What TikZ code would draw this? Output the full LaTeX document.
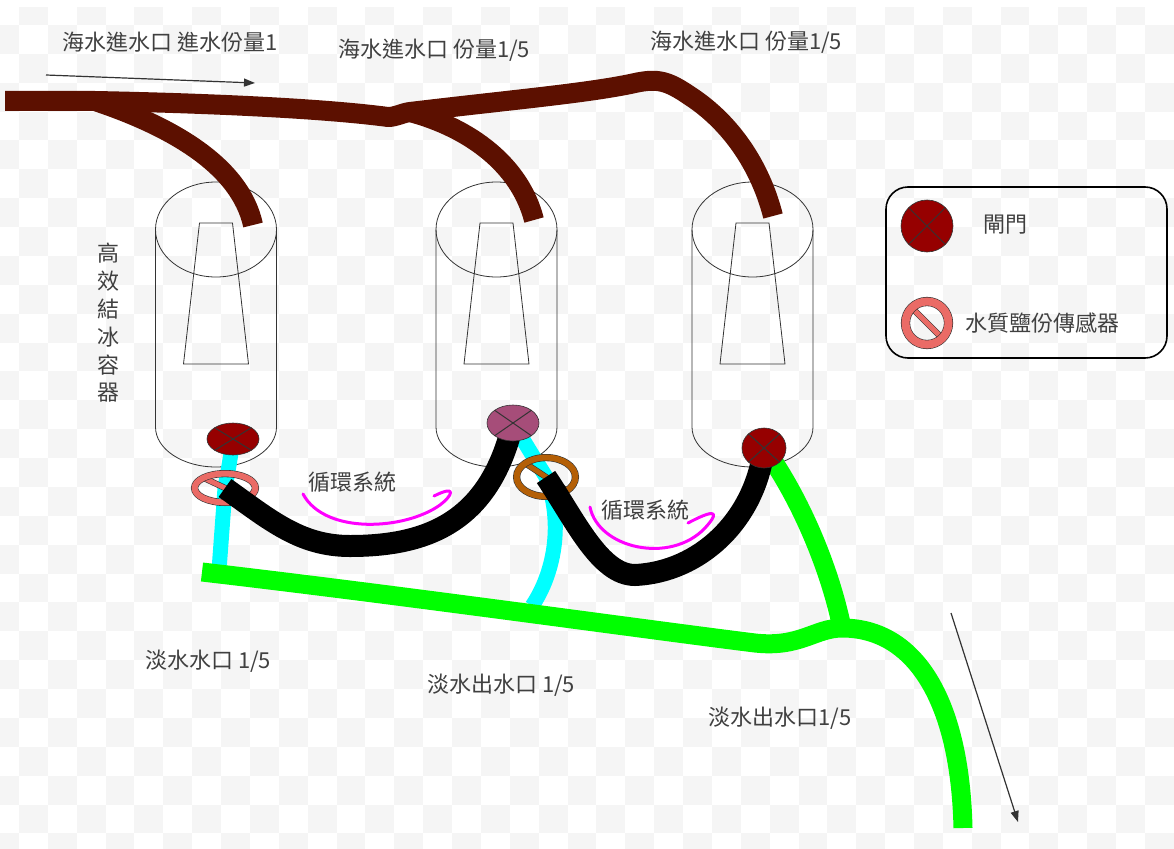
\documentclass[tikz,border=0pt]{standalone}
\usepackage{fontspec}
\setmainfont{Noto Sans CJK TC}
\usetikzlibrary{shapes.geometric,arrows.meta}

\definecolor{boardgray}{RGB}{245,245,245}
\definecolor{inktext}{RGB}{64,64,64}
\definecolor{outline}{RGB}{51,51,51}
\definecolor{seabrown}{RGB}{92,16,0}
\definecolor{freshgreen}{RGB}{0,255,0}
\definecolor{brinecyan}{RGB}{0,255,255}
\definecolor{hintpink}{RGB}{255,0,255}
\definecolor{gatered}{RGB}{150,0,0}
\definecolor{gatemauve}{RGB}{166,77,121}
\definecolor{probepink}{RGB}{234,107,102}
\definecolor{probeorange}{RGB}{180,95,6}

\pgfdeclarelayer{board}
\pgfdeclarelayer{pipes}
\pgfdeclarelayer{top}
\pgfsetlayers{board,pipes,main,top}

\tikzset{
  tank/.style={draw=outline, line width=.8pt},
  gate/.style={ellipse, draw=outline, line width=.6pt, fill=#1, inner sep=0pt,
    path picture={\draw[black!80, line width=1pt]
      (path picture bounding box.north west) -- (path picture bounding box.south east)
      (path picture bounding box.north east) -- (path picture bounding box.south west);}},
  gate/.default=gatered,
  probe/.style={ellipse, draw=outline, line width=.6pt, double=#1, double distance=6pt, inner sep=0pt,
    path picture={\draw[outline, line width=.6pt, double=#1, double distance=5pt]
      (path picture bounding box.north west) -- (path picture bounding box.south east);}},
  seapipe/.style={draw=seabrown, line width=20pt, line join=round},
  freshpipe/.style={draw=freshgreen, line width=19pt, line join=round},
  brinepipe/.style={draw=brinecyan, line width=15pt},
  looppipe/.style={draw=black, line width=22pt},
  hint/.style={draw=hintpink, line width=3pt, line cap=round, line join=round},
  flowarrow/.style={draw=outline, line width=1.2pt, -{Triangle[length=11pt,width=8pt]}},
  note/.style={text=inktext, font=\fontsize{22}{26}\selectfont, inner sep=0pt},
}

\begin{document}
\begin{tikzpicture}[x=1pt,y=-1pt]
  \useasboundingbox (0,0) rectangle (1174,848);

  % checkerboard and the three tanks
  \begin{pgfonlayer}{board}
    \begin{scope}
      \clip (0,8) rectangle (1174,848);
      \foreach \i in {-1,...,40}
        \foreach \j in {-1,...,28}
          {\ifodd\numexpr\i+\j+2\relax
             \fill[boardgray] ({19+28.87*(\i)},{25+28.87*(\j)}) rectangle +(28.87,28.87);
           \fi}
    \end{scope}
    \foreach \cx in {216,496.5,752.5} {
      \draw[tank] (\cx,229.5) ellipse [x radius=60.5, y radius=47.5];
      \draw[tank] ({\cx-60.5},229.5) -- ({\cx-60.5},427)
        arc [start angle=180, end angle=0, x radius=60.5, y radius=40] -- ({\cx+60.5},229.5);
      \draw[tank] ({\cx-16.5},223) -- ({\cx+16.5},223) -- ({\cx+32.5},364) -- ({\cx-32.5},364) -- cycle;
    }
  \end{pgfonlayer}

  % valves
  \begin{pgfonlayer}{top}
    \node[gate, minimum width=52, minimum height=32] (gate1) at (233,439) {};
    \node[gate=gatemauve, minimum width=52, minimum height=36] (gate2) at (513,423) {};
    \node[gate, minimum width=44, minimum height=40] (gate3) at (764,448) {};
  \end{pgfonlayer}

  % salinity probes
  \node[probe=probepink, minimum width=60.8, minimum height=28.8] (probe1) at (225,488) {};
  \node[probe=probeorange, minimum width=58.8, minimum height=38.8] (probe2) at (546,477) {};

  % free pipe ends and branch points
  \coordinate (seain) at (5,101);
  \coordinate (tap1) at (95,101);
  \coordinate (tap2) at (410,112);
  \coordinate (seaend1) at (253,225);
  \coordinate (seaend2) at (534,220);
  \coordinate (seaend3) at (773,216);
  \coordinate (freshin) at (202,572);
  \coordinate (freshjoint) at (842,628);
  \coordinate (freshout) at (963,828);
  \coordinate (drain1) at (219,570);
  \coordinate (drain2) at (532,606);

  \begin{pgfonlayer}{pipes}
    % sea water feed
    \draw[seapipe] (seain) -- (tap1) .. controls (200,103) and (320,108) .. (388,117)
      .. controls (396,117) and (402,113) .. (tap2) .. controls (510,100) and (590,93) .. (635,83)
      .. controls (658,78) and (668,81) .. (690,96)
      .. controls (730,122) and (760,165) .. (seaend3);
    \draw[seapipe] (tap1) .. controls (170,126) and (240,165) .. (seaend1);
    \draw[seapipe] (tap2) .. controls (470,128) and (520,165) .. (seaend2);

    % fresh water
    \draw[brinepipe] (gate1.center) .. controls (230,460) .. (probe1.center) .. controls (222,530) .. (drain1);
    \draw[brinepipe] (gate2.center) .. controls (528,448) .. (probe2.center)
      .. controls (566,530) and (550,580) .. (drain2);
    \draw[freshpipe] (freshin) .. controls (400,595) and (650,630) .. (755,643)
      .. controls (800,648) and (815,628) .. (freshjoint) .. controls (915,628) and (960,700) .. (freshout);
    \draw[freshpipe] (gate3.center) .. controls (795,490) and (828,560) .. (freshjoint);
  \end{pgfonlayer}

  % circulation loops
  \draw[looppipe] (probe1.center) .. controls (270,520) and (300,546) .. (350,546)
    .. controls (430,546) and (490,520) .. (gate2.center);
  \draw[looppipe] (probe2.center) .. controls (575,520) and (600,575) .. (635,575)
    .. controls (700,572) and (755,520) .. (gate3.center);
  \draw[hint] (303,494) .. controls (325,535) and (405,530) .. (440,505)
    .. controls (452,496) and (458,484) .. (434,496);
  \draw[hint] (590,507) .. controls (598,548) and (670,565) .. (705,528)
    .. controls (716,516) and (722,505) .. (688,523);

  % flow direction
  \coordinate (inflowtail) at (46,75);
  \coordinate (inflowhead) at (255,83);
  \coordinate (outflowtail) at (951,613);
  \coordinate (outflowhead) at (1018,822);
  \draw[flowarrow] (inflowtail) -- (inflowhead);
  \draw[flowarrow] (outflowtail) -- (outflowhead);

  % labels
  \node[note, anchor=west] (inflowlabel) at (62,42) {海水進水口 進水份量1};
  \node[note, anchor=west] (feed2label) at (338,50) {海水進水口 份量1/5};
  \node[note, anchor=west] (feed3label) at (650,42) {海水進水口 份量1/5};
  \node[note, align=center, font=\fontsize{22}{27.8}\selectfont] (tanklabel) at (108,323)
    {高\\效\\結\\冰\\容\\器};
  \node[note] (loop1label) at (352,482) {循環系統};
  \node[note] (loop2label) at (645,510) {循環系統};
  \node[note, anchor=west] (freshinlabel) at (145,661) {淡水水口 1/5};
  \node[note, anchor=west] (freshmidlabel) at (427,685) {淡水出水口 1/5};
  \node[note, anchor=west] (freshoutlabel) at (708,718) {淡水出水口1/5};

  % legend
  \node[draw=black, line width=1.6pt, rounded corners=22pt, minimum width=281, minimum height=171,
    inner sep=0pt] (legend) at (1026.5,272.5) {};
  \node[gate, minimum width=52, minimum height=52] (legendgate) at (927,226) {};
  \node[probe=probepink, double distance=8pt, minimum width=43, minimum height=43] (legendprobe) at (927,323) {};
  \node[note, anchor=west] (gatetext) at (983,225) {閘門};
  \node[note, anchor=west] (probetext) at (965,323) {水質鹽份傳感器};
\end{tikzpicture}
\end{document}
